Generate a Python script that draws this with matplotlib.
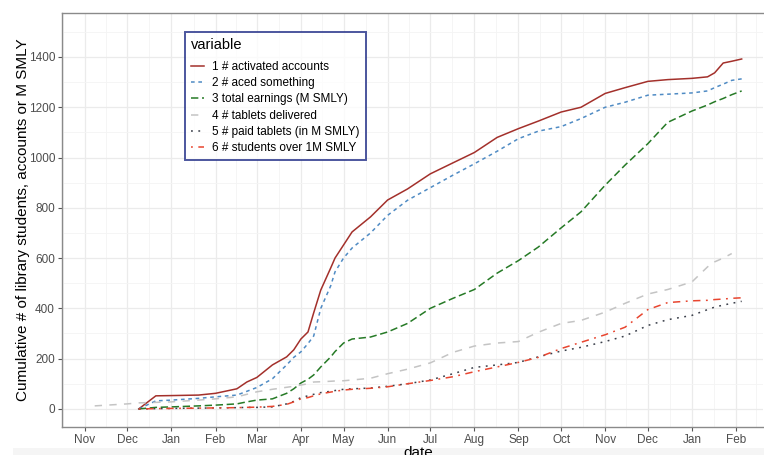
import matplotlib
matplotlib.use("Agg")
import matplotlib.pyplot as plt
import numpy as np
import pandas as pd
from matplotlib.patches import Rectangle

plt.rcParams['font.family'] = ['Liberation Sans', 'DejaVu Sans']

nan = np.nan

# shared sampling dates for all series
dates = pd.to_datetime([
    "2019-11-08", "2019-12-01", "2019-12-09", "2019-12-21", "2020-01-01",
    "2020-01-20", "2020-02-01", "2020-02-16", "2020-02-23", "2020-03-01",
    "2020-03-12", "2020-03-22", "2020-03-27", "2020-04-01", "2020-04-06",
    "2020-04-10", "2020-04-15", "2020-04-22", "2020-04-25", "2020-05-01",
    "2020-05-07", "2020-05-20", "2020-06-01", "2020-06-15", "2020-07-01",
    "2020-07-17", "2020-08-01", "2020-08-17", "2020-09-01", "2020-09-15",
    "2020-10-01", "2020-10-15", "2020-11-01", "2020-11-15", "2020-12-01",
    "2020-12-15", "2021-01-01", "2021-01-12", "2021-01-17", "2021-01-23",
    "2021-01-29", "2021-02-05"])

activated = [nan, nan, 0, 52, 53, 55, 62, 80, 107, 125,
             175, 207, 235, 278, 306, 382, 473, 561, 600, 652,
             704, 764, 831, 875, 935, 979, 1020, 1080, 1115, 1145,
             1181, 1200, 1255, 1278, 1303, 1310, 1315, 1321, 1337, 1376,
             1383, 1392]
aced = [nan, nan, 0, 32, 35, 42, 48, 55, 70, 85,
        120, 175, 205, 227, 260, 290, 400, 490, 545, 600,
        640, 700, 770, 830, 880, 930, 975, 1025, 1075, 1105,
        1123, 1155, 1200, 1220, 1248, 1252, 1257, 1265, 1278, 1292,
        1307, 1313]
earnings = [nan, nan, 0, 6, 8, 12, 15, 20, 28, 35,
            40, 62, 80, 103, 118, 135, 167, 207, 228, 262,
            278, 286, 306, 340, 400, 440, 475, 540, 590, 644,
            720, 784, 890, 970, 1055, 1140, 1185, 1209, 1222, 1235,
            1250, 1265]
delivered = [12, 20, 24, 26, 28, 35, 40, 48, 58, 68,
             78, 86, 90, 95, 100, 107, 108, 110, 111, 112,
             115, 122, 140, 158, 183, 225, 250, 262, 268, 305,
             340, 352, 385, 420, 457, 475, 505, 565, 585, 600,
             618, nan]
paid = [nan, nan, 0, 1, 2, 3, 4, 5, 6, 6,
        8, 20, 30, 45, 52, 58, 65, 70, 73, 78,
        80, 83, 90, 100, 115, 140, 165, 175, 185, 207,
        230, 245, 268, 290, 332, 355, 372, 395, 405, 413,
        420, 428]
over_1m = [nan, nan, 0, 1, 2, 3, 4, 5, 6, 7,
           10, 18, 28, 40, 45, 52, 60, 67, 70, 75,
           78, 82, 88, 100, 113, 128, 148, 167, 185, 205,
           240, 265, 295, 325, 395, 423, 430, 432, 435, 437,
           440, 442]

labels = ["1 # activated accounts", "2 # aced something",
          "3 total earnings (M SMLY)", "4 # tablets delivered",
          "5 # paid tablets (in M SMLY)", "6 # students over 1M SMLY"]
colors = ["#A3302B", "#4F8BC4", "#267A26", "#C4C4C4", "#3A3F4A", "#E8452F"]
dash_styles = [None, (2, 2), (4, 2), (4, 4), (1, 3), (1, 3, 4, 3)]

fig = plt.figure(figsize=(7.64, 4.55), dpi=100)
ax = fig.add_axes([62 / 764, 28 / 455, 701 / 764, 414 / 455])

series = [activated, aced, earnings, delivered, paid, over_1m]
for vals, lab, col, ds in zip(series, labels, colors, dash_styles):
    line, = ax.plot(dates, vals, color=col, lw=1.1, label=lab)
    if ds is not None:
        line.set_dashes([d * 1.2 for d in ds])

# axis limits (Oct 16 2019 .. Feb 20 2021)
ax.set_xlim(pd.Timestamp("2019-10-16"), pd.Timestamp("2021-02-20"))
ax.set_ylim(-72, 1575)

# month ticks, minor grid halfway between
months = pd.date_range("2019-11-01", "2021-02-01", freq="MS")
ax.set_xticks(months)
ax.set_xticklabels([m.strftime("%b") for m in months])
mids = [months[i] + (months[i + 1] - months[i]) / 2 for i in range(len(months) - 1)]
mids = [months[0] - pd.Timedelta(days=15.5)] + mids + [months[-1] + pd.Timedelta(days=14)]
ax.set_xticks(mids, minor=True)
ax.set_yticks(range(0, 1401, 200))
ax.set_yticks(range(100, 1501, 200), minor=True)

ax.grid(True, which="major", color="#EBEBEB", lw=0.9)
ax.grid(True, which="minor", color="#F4F4F4", lw=0.6)
ax.set_axisbelow(True)

ax.tick_params(which="major", length=3, width=0.8, color="#555555",
               labelcolor="#4D4D4D", labelsize=8.5, pad=2)
ax.tick_params(which="minor", length=0)

for side in ["left", "bottom", "top"]:
    ax.spines[side].set_color("#8A8A8A")
    ax.spines[side].set_linewidth(1.0)
ax.spines["right"].set_visible(False)

ax.set_ylabel("Cumulative # of library students, accounts or M SMLY",
              fontsize=11, labelpad=-1)

leg = ax.legend(loc="upper left", bbox_to_anchor=(0.1755, 0.954),
                title="variable", fontsize=8.5, title_fontsize=10.5,
                frameon=True, fancybox=False, handlelength=1.1,
                handletextpad=0.7, labelspacing=0.36, borderpad=0.5,
                borderaxespad=0)
leg._legend_box.align = "left"
leg._legend_box.sep = 6.5
leg.get_frame().set_edgecolor("#1F2C86")
leg.get_frame().set_linewidth(1.4)

# grey strip at the bottom of the screenshot
fig.patches.append(Rectangle((13 / 764, 0), 1, 7 / 455, transform=fig.transFigure,
                             facecolor="#F5F5F5", edgecolor="none", zorder=0))

# x axis title, cut off by the bottom edge as in the screenshot
fig.text(418 / 764, 1 - 446 / 455, "date", fontsize=11, ha="center", va="top")

fig.savefig("out.png", dpi=100)
